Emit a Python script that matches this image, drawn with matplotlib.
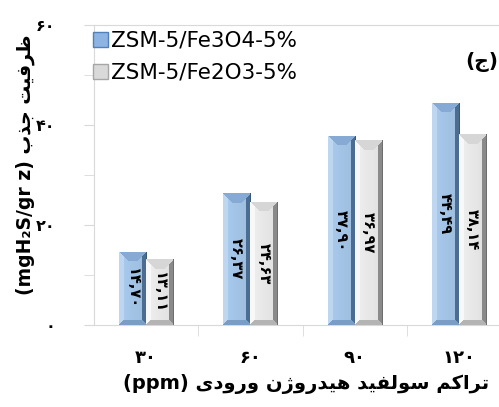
import numpy as np
import matplotlib
matplotlib.use("Agg")
import matplotlib.pyplot as plt
from matplotlib.patches import Patch

# ---- data ----
categories = ["۳۰", "۶۰", "۹۰", "۱۲۰"]
fe3o4 = [14.70, 26.37, 37.90, 44.49]
fe2o3 = [13.11, 24.63, 36.97, 38.14]
fe3o4_labels = ["۱۴,۷۰", "۲۶,۳۷", "۳۷,۹۰", "۴۴,۴۹"]
fe2o3_labels = ["۱۳,۱۱", "۲۴,۶۳", "۳۶,۹۷", "۳۸,۱۴"]
series_names = ["ZSM-5/Fe3O4-5%", "ZSM-5/Fe2O3-5%"]
ytick_vals = [0, 20, 40, 60]
ytick_labels = ["۰", "۲۰", "۴۰", "۶۰"]

# ---- minimal Persian shaping (presentation forms) ----
FORMS = {
    "ا": ("\uFE8D", "\uFE8E"),
    "ب": ("\uFE8F", "\uFE90", "\uFE91", "\uFE92"),
    "ت": ("\uFE95", "\uFE96", "\uFE97", "\uFE98"),
    "ج": ("\uFE9D", "\uFE9E", "\uFE9F", "\uFEA0"),
    "د": ("\uFEA9", "\uFEAA"),
    "ذ": ("\uFEAB", "\uFEAC"),
    "ر": ("\uFEAD", "\uFEAE"),
    "ز": ("\uFEAF", "\uFEB0"),
    "ژ": ("\uFB8A", "\uFB8B"),
    "س": ("\uFEB1", "\uFEB2", "\uFEB3", "\uFEB4"),
    "ظ": ("\uFEC5", "\uFEC6", "\uFEC7", "\uFEC8"),
    "ف": ("\uFED1", "\uFED2", "\uFED3", "\uFED4"),
    "ک": ("\uFB8E", "\uFB8F", "\uFB90", "\uFB91"),
    "ل": ("\uFEDD", "\uFEDE", "\uFEDF", "\uFEE0"),
    "م": ("\uFEE1", "\uFEE2", "\uFEE3", "\uFEE4"),
    "ن": ("\uFEE5", "\uFEE6", "\uFEE7", "\uFEE8"),
    "ه": ("\uFEE9", "\uFEEA", "\uFEEB", "\uFEEC"),
    "و": ("\uFEED", "\uFEEE"),
    "ی": ("\uFBFC", "\uFBFD", "\uFBFE", "\uFBFF"),
}


def shape(word):
    out = []
    for i, c in enumerate(word):
        if c not in FORMS:
            out.append(c)
            continue
        prev = word[i - 1] if i > 0 else None
        nxt = word[i + 1] if i < len(word) - 1 else None
        join_prev = prev in FORMS and len(FORMS[prev]) == 4
        join_next = len(FORMS[c]) == 4 and nxt in FORMS
        f = FORMS[c]
        if join_prev and join_next:
            out.append(f[3])
        elif join_prev:
            out.append(f[1])
        elif join_next:
            out.append(f[2])
        else:
            out.append(f[0])
    return "".join(out)[::-1]


def rtl(words, suffix):
    # visual left-to-right: suffix, then words from last to first
    return suffix + " " + " ".join(shape(w) for w in reversed(words))


xlabel = rtl(["تراکم", "سولفید", "هیدروژن", "ورودی"], "(ppm)")
ylabel = rtl(["ظرفیت", "جذب"], "(mgH\u2082S/gr z)")

plt.rcParams["font.family"] = ["DejaVu Sans"]

fig = plt.figure(figsize=(4.99, 4.07), dpi=100)
W, H = 499, 407
ax = fig.add_axes([94 / W, 1 - 325 / H, (511 - 94) / W, 300 / H])
ax.set_xlim(-0.5, 3.5)
ax.set_ylim(0, 60)

x = np.arange(len(categories))
bw = 0.26
off = 0.13
b1 = ax.bar(x - off, fe3o4, bw, color="#A7C8EC", zorder=2)
b2 = ax.bar(x + off, fe2o3, bw, color="#EDEDED", zorder=2)

pal_blue = dict(center="#A9CBEE", left="#BFD6F0", right="#4C6D92", top="#86AAD4", bottom="#7A9DC6")
pal_grey = dict(center="#F0F0F0", left="#F8F8F8", right="#8A8A8A", top="#D6D6D6", bottom="#B4B4B4")


def hex2rgb(h):
    return np.array(matplotlib.colors.to_rgb(h))


def bevel(patch, pal):
    x0, y0 = patch.get_x(), patch.get_y()
    x1, y1 = x0 + patch.get_width(), y0 + patch.get_height()
    p0 = ax.transData.transform((x0, y0))
    p1 = ax.transData.transform((x1, y1))
    wpx = max(int(round(p1[0] - p0[0])), 2)
    hpx = max(int(round(p1[1] - p0[1])), 2)
    r, c = np.mgrid[0:hpx, 0:wpx]
    dl, dr = c.astype(float), (wpx - 1 - c).astype(float)
    dt, db = r.astype(float), (hpx - 1 - r).astype(float)
    img = np.tile(hex2rgb(pal["center"]), (hpx, wpx, 1))
    shade = 1 - 0.07 * (c / (wpx - 1))
    img = img * shade[..., None]
    bs, bt = 5, 10
    left = (dl < bs) & (dl < dt) & (dl < db)
    right = (dr < bs) & (dr < dt) & (dr < db)
    top = (dt < bt) & (dt <= dl) & (dt <= dr)
    bottom = (db < bs) & (db <= dl) & (db <= dr) & ~top
    img[left] = hex2rgb(pal["left"])
    img[right] = hex2rgb(pal["right"])
    img[top] = hex2rgb(pal["top"])
    img[bottom] = hex2rgb(pal["bottom"])
    img[:, -1] = hex2rgb(pal["right"]) * 0.8
    im = ax.imshow(img, extent=(x0, x1, y0, y1), aspect="auto",
                   interpolation="nearest", zorder=3)
    im.set_clip_path(patch)


for p in b1:
    bevel(p, pal_blue)
for p in b2:
    bevel(p, pal_grey)
ax.set_xlim(-0.5, 3.5)
ax.set_ylim(0, 60)

# value labels inside bars
for bars, labs in [(b1, fe3o4_labels), (b2, fe2o3_labels)]:
    for p, lab in zip(bars, labs):
        ax.text(p.get_x() + p.get_width() / 2, p.get_height() / 2, lab,
                rotation=-90, ha="center", va="center", fontsize=10.5,
                fontweight="bold", color="black", zorder=5)

# axes styling
for s in ["left", "bottom", "top"]:
    ax.spines[s].set_color("#D9D9D9")
ax.spines["right"].set_visible(False)
ax.set_yticks(ytick_vals)
ax.set_yticklabels(ytick_labels, fontsize=11.5, fontweight="bold")
ax.set_yticks([10, 30, 50], minor=True)
ax.tick_params(axis="y", which="both", direction="out", length=7,
               color="#D9D9D9", pad=21)
ax.set_xticks(x)
ax.set_xticklabels(categories, fontsize=13, fontweight="bold")
ax.set_xticks([0.5, 1.5, 2.5], minor=True)
ax.tick_params(axis="x", which="major", length=0, pad=17)
ax.tick_params(axis="x", which="minor", direction="out", length=8,
               color="#D9D9D9")

# legend
handles = [Patch(facecolor="#8DB4E2", edgecolor="#4F81BD"),
           Patch(facecolor="#D9D9D9", edgecolor="#A6A6A6")]
fig.legend(handles, series_names, loc="upper left",
           bbox_to_anchor=(93 / W, 1 - 31 / H), bbox_transform=fig.transFigure,
           frameon=False, fontsize=15.5, handlelength=0.7, handleheight=0.7,
           handletextpad=0.15, labelspacing=0.55, borderpad=0, borderaxespad=0)

fig.text(465 / W, 1 - 62 / H, "(" + shape("ج") + ")", fontsize=14.5,
         fontweight="bold", ha="left", va="center")
fig.text(306 / W, 1 - 384 / H, xlabel, fontsize=14, fontweight="bold",
         ha="center", va="center")
fig.text(25 / W, 1 - 165 / H, ylabel, fontsize=13.5, fontweight="bold",
         rotation=90, ha="center", va="center")

fig.savefig("out.png", dpi=100)
